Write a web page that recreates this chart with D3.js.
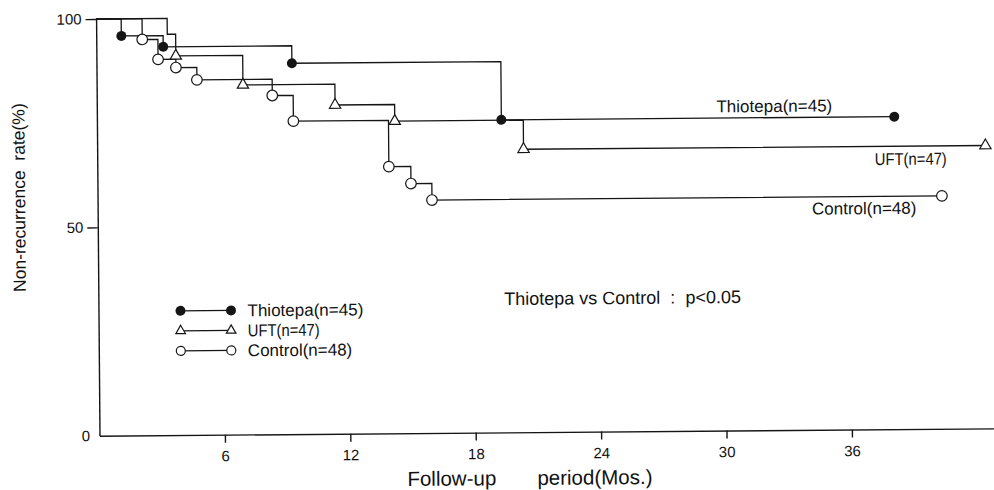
<!DOCTYPE html>
<html>
<head>
<meta charset="utf-8">
<script src="https://cdn.jsdelivr.net/npm/d3@7/dist/d3.min.js"></script>
<style>
  html, body { margin: 0; padding: 0; background: #fff; }
  svg { display: block; }
  text { font-family: "Liberation Sans", Arial, Helvetica, sans-serif; fill: #111; }
</style>
</head>
<body>
<svg id="chart" width="994" height="490"></svg>
<script>
// Kaplan–Meier style non-recurrence curves, three treatment groups
const seriesNames = ["Thiotepa(n=45)", "UFT(n=47)", "Control(n=48)"];

const thiotepaMonths = [0, 1.2, 3.2, 9.35, 19.35, 38.15];
const thiotepaRates  = [100, 95.9, 93.2, 89.0, 75.0, 75.0];

const uftMonths = [0, 3.4, 3.8, 7.0, 11.4, 14.25, 20.4, 42.5];
const uftRates  = [100, 96.2, 91.0, 83.9, 78.9, 74.9, 67.9, 67.9];
const uftMarked = [false, false, true, true, true, true, true, true];

const controlMonths = [0, 2.2, 2.95, 3.8, 4.8, 8.4, 9.4, 13.95, 15.0, 16.0, 40.4];
const controlRates  = [100, 95.0, 90.2, 88.2, 85.2, 81.3, 75.1, 64.0, 59.9, 55.9, 55.9];

const xTicks = [6, 12, 18, 24, 30, 36];
const yTicks = [0, 50, 100];

const xTitleParts = ["Follow-up", "period(Mos.)"];
const yTitle = "Non-recurrence  rate(%)";
const pValueNote = "Thiotepa vs Control  :  p<0.05";

// ---- layout ----
const x0 = 99.5, y0 = 435.7;           // axis origin
const svg = d3.select("#chart");
svg.append("rect").attr("width", 994).attr("height", 490).attr("fill", "#fff");

// the printed figure sits slightly askew on the page
const g = svg.append("g").attr("transform", `rotate(-0.47, ${x0}, ${y0})`);

const x = d3.scaleLinear().domain([0, 43.2]).range([x0, x0 + 20.9 * 43.2]);
const y = d3.scaleLinear().domain([0, 100]).range([y0, 19]);

const ink = "#151515";

// y axis
const yAxis = g.append("g").attr("transform", `translate(${x0},0)`)
  .call(d3.axisLeft(y).tickValues(yTicks).tickSize(10.5).tickPadding(4).tickSizeOuter(0));
yAxis.selectAll("text").style("font-size", "15px").attr("fill", ink);
yAxis.selectAll("line, path").attr("stroke", ink).attr("stroke-width", 1.4);
yAxis.selectAll(".tick").filter(d => d === 0).select("line").remove();
yAxis.selectAll(".tick").filter(d => d === 0).select("text").attr("x", -9.5);

// x axis
const xAxis = g.append("g").attr("transform", `translate(0,${y0})`)
  .call(d3.axisBottom(x).tickValues(xTicks).tickSize(8).tickPadding(8).tickSizeOuter(0));
xAxis.selectAll("text").style("font-size", "15px").attr("fill", ink);
xAxis.selectAll("line, path").attr("stroke", ink).attr("stroke-width", 1.4);

// step curves
const series = [
  { name: seriesNames[0], months: thiotepaMonths, rates: thiotepaRates, symbol: "dot" },
  { name: seriesNames[1], months: uftMonths, rates: uftRates, symbol: "tri", marked: uftMarked },
  { name: seriesNames[2], months: controlMonths, rates: controlRates, symbol: "ring" }
];

const stepLine = d3.line().curve(d3.curveStepAfter).x(d => x(d[0])).y(d => y(d[1]));

series.forEach(s => {
  const pts = s.months.map((m, i) => [m, s.rates[i]]);
  g.append("path").datum(pts).attr("d", stepLine)
    .attr("fill", "none").attr("stroke", ink).attr("stroke-width", 1.3);
});

function drawMarker(sel, kind, cx, cy, scale) {
  if (kind === "dot") {
    sel.append("circle").attr("cx", cx).attr("cy", cy).attr("r", 5 * scale)
      .attr("fill", ink);
  } else if (kind === "ring") {
    sel.append("circle").attr("cx", cx).attr("cy", cy).attr("r", 5.3 * scale)
      .attr("fill", "#fff").attr("stroke", ink).attr("stroke-width", 1.2);
  } else {
    sel.append("path").attr("d", d3.symbol(d3.symbolTriangle, 55 * scale * scale)())
      .attr("transform", `translate(${cx},${cy})`)
      .attr("fill", "#fff").attr("stroke", ink).attr("stroke-width", 1.2);
  }
}

series.forEach(s => {
  s.months.forEach((m, i) => {
    if (i === 0) return;
    if (s.marked && !s.marked[i]) return;
    drawMarker(g, s.symbol, x(m), y(s.rates[i]), 1);
  });
});

// the UFT caption is set in a narrower cut
function fitUft(sel, name) {
  if (name === seriesNames[1]) sel.attr("textLength", 72).attr("lengthAdjust", "spacingAndGlyphs");
  return sel;
}

// curve labels
const labelFont = "17px";
const labelPos = [[777, 111.5], [913, 165.5], [866, 214.5]];
seriesNames.forEach((name, i) => {
  const t = g.append("text").attr("x", labelPos[i][0]).attr("y", labelPos[i][1]).attr("dy", "0.35em")
    .attr("text-anchor", "middle").style("font-size", labelFont).text(name);
  fitUft(t, name);
});

// legend
const legend = g.append("g");
series.forEach((s, i) => {
  const ly = 311.5 + i * 20;
  legend.append("line").attr("x1", 181.5).attr("x2", 232).attr("y1", ly).attr("y2", ly)
    .attr("stroke", ink).attr("stroke-width", 1.3);
  const sc = s.symbol === "dot" ? 1 : 0.85;
  drawMarker(legend, s.symbol, 181.5, ly, sc);
  drawMarker(legend, s.symbol, 232, ly, sc);
  const t = legend.append("text").attr("x", 248.5).attr("y", ly).attr("dy", "0.35em")
    .style("font-size", labelFont).text(s.name);
  fitUft(t, s.name);
});

// significance note
g.append("text").attr("x", 742).attr("y", 302).attr("dy", "0.35em")
  .attr("text-anchor", "end").attr("xml:space", "preserve")
  .style("font-size", "18px").style("white-space", "pre").text(pValueNote);

// axis titles
g.append("text").attr("x", 407).attr("y", 488.5).style("font-size", "20.5px").text(xTitleParts[0]);
g.append("text").attr("x", 537).attr("y", 488.5).style("font-size", "20.5px").text(xTitleParts[1]);
g.append("text").attr("transform", "translate(27,197) rotate(-90)")
  .attr("text-anchor", "middle").style("font-size", "17.5px").style("white-space", "pre")
  .text(yTitle);
</script>
</body>
</html>
